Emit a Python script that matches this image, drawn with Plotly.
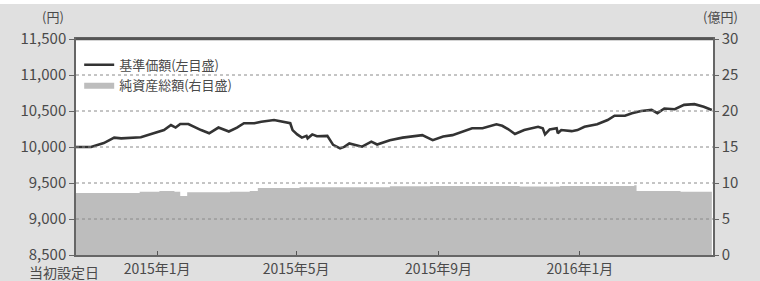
import plotly.graph_objects as go

# 基準価額 (円)
nav_dates = ["2014-10-23", "2014-11-05", "2014-11-16", "2014-11-25", "2014-12-01", "2014-12-18",
             "2014-12-29", "2015-01-07", "2015-01-13", "2015-01-17", "2015-01-21", "2015-01-28",
             "2015-02-08", "2015-02-15", "2015-02-23", "2015-03-04", "2015-03-11", "2015-03-17",
             "2015-03-26", "2015-04-01", "2015-04-12", "2015-04-22", "2015-04-26", "2015-04-28",
             "2015-05-02", "2015-05-06", "2015-05-10", "2015-05-11", "2015-05-15", "2015-05-19",
             "2015-05-28", "2015-06-02", "2015-06-08", "2015-06-12", "2015-06-16", "2015-06-27",
             "2015-07-05", "2015-07-10", "2015-07-21", "2015-08-01", "2015-08-07", "2015-08-18",
             "2015-08-27", "2015-09-05", "2015-09-13", "2015-09-22", "2015-09-30", "2015-10-09",
             "2015-10-21", "2015-10-26", "2015-10-31", "2015-11-06", "2015-11-14", "2015-11-26",
             "2015-11-30", "2015-12-02", "2015-12-06", "2015-12-12", "2015-12-13", "2015-12-16",
             "2015-12-25", "2015-12-30", "2016-01-05", "2016-01-16", "2016-01-25", "2016-01-31",
             "2016-02-09", "2016-02-15", "2016-02-23", "2016-03-03", "2016-03-08", "2016-03-14",
             "2016-03-23", "2016-03-31", "2016-04-09", "2016-04-17", "2016-04-24"]
nav_values = [10000, 10000, 10055, 10130, 10120, 10135,
              10190, 10235, 10305, 10270, 10320, 10320,
              10235, 10190, 10270, 10215, 10270, 10330,
              10330, 10350, 10375, 10350, 10330, 10235,
              10175, 10130, 10155, 10120, 10175, 10150,
              10155, 10030, 9980, 10005, 10050, 10005,
              10075, 10035, 10095, 10130, 10145, 10165,
              10095, 10145, 10165, 10215, 10260, 10260,
              10315, 10295, 10250, 10180, 10235, 10280,
              10260, 10175, 10245, 10260, 10190, 10235,
              10220, 10235, 10280, 10315, 10375, 10435,
              10435, 10470, 10500, 10515, 10470, 10535,
              10525, 10585, 10595, 10560, 10515]

# 純資産総額 (億円)
aum_dates = ["2014-10-23", "2014-12-17", "2015-01-03", "2015-01-16", "2015-01-21", "2015-01-27",
             "2015-03-05", "2015-03-22", "2015-03-29", "2015-05-04", "2015-07-21", "2015-08-25",
             "2015-11-10", "2015-12-15", "2016-02-17", "2016-02-19", "2016-03-28", "2016-04-24"]
aum_values = [8.6, 8.8, 8.9, 8.8, 8.2, 8.7,
              8.8, 8.9, 9.3, 9.4, 9.55, 9.6,
              9.5, 9.6, 9.7, 8.9, 8.8, 8.75]

x_tick_dates = ["2015-01-01", "2015-05-01", "2015-09-01", "2016-01-01"]
x_tick_text = ["2015年1月", "2015年5月", "2015年9月", "2016年1月"]
y_left_ticks = [8500, 9000, 9500, 10000, 10500, 11000, 11500]
y_right_ticks = [0, 5, 10, 15, 20, 25, 30]
x_range = ["2014-10-23", "2016-04-25"]

FONT = "Noto Sans CJK JP"
TXT = "#4a4a4a"

fig = go.Figure()
fig.add_trace(go.Scatter(
    x=nav_dates, y=nav_values, name="基準価額(左目盛)", yaxis="y",
    mode="lines", line=dict(color="#333333", width=2.6),
))
fig.add_trace(go.Scatter(
    x=aum_dates, y=aum_values, name="純資産総額(右目盛)", yaxis="y2",
    mode="lines", line=dict(color="rgba(0,0,0,0)", width=0, shape="hv"),
    fill="tozeroy", fillcolor="#bdbdbd",
))

shapes = [dict(type="line", xref="paper", x0=0, x1=1, yref="y", y0=v, y1=v,
               line=dict(color="#8a8a8a", width=1, dash="dot"), layer="above")
          for v in y_left_ticks[1:-1]]
shapes.append(dict(type="rect", xref="paper", yref="paper", x0=-0.2, x1=1.2,
                   y0=1.162, y1=1.3, fillcolor="white", line=dict(width=0), layer="below"))
shapes.append(dict(type="line", xref="paper", yref="paper", x0=0, x1=1, y0=1, y1=1,
                   line=dict(color="#555", width=2.5), layer="above"))

fig.update_layout(
    width=760, height=281,
    margin=dict(l=76, r=47, t=39, b=26, autoexpand=False),
    paper_bgcolor="#e0e0e0", plot_bgcolor="white",
    font=dict(family=FONT, color=TXT, size=14),
    showlegend=True,
    legend=dict(x=0.005, y=0.95, xanchor="left", yanchor="top",
                bgcolor="rgba(0,0,0,0)", font=dict(size=13, color=TXT),
                tracegroupgap=0, itemwidth=30),
    xaxis=dict(type="date", range=x_range, tickvals=x_tick_dates, ticktext=x_tick_text,
               ticks="inside", ticklen=4, tickcolor="#555", showgrid=False,
               showline=True, linecolor="#666", linewidth=1.5, mirror=True,
               tickfont=dict(size=14, color=TXT), automargin=False),
    yaxis=dict(range=[8500, 11500], tickvals=y_left_ticks, tickformat=",",
               ticks="outside", ticklen=5, tickcolor="#666", showgrid=False,
               showline=True, linecolor="#666", linewidth=1.5,
               tickfont=dict(size=15, color=TXT), zeroline=False, automargin=False),
    yaxis2=dict(range=[0, 30], tickvals=y_right_ticks, overlaying="y", side="right",
                ticks="outside", ticklen=4, tickcolor="#666", showgrid=False,
                showline=True, linecolor="#666", linewidth=1.5,
                tickfont=dict(size=15, color=TXT), zeroline=False, automargin=False),
    shapes=shapes,
    annotations=[
        dict(text="(円)", xref="paper", yref="paper", x=-0.016, y=1.066, yshift=-3,
             xanchor="right", yanchor="bottom", showarrow=False, font=dict(size=13, color=TXT)),
        dict(text="(億円)", xref="paper", yref="paper", x=1.012, y=1.066, yshift=-3,
             xanchor="center", yanchor="bottom", showarrow=False, font=dict(size=13, color=TXT)),
        dict(text="当初設定日", xref="paper", yref="paper", x=-0.019, y=0,
             xanchor="center", yanchor="top", yshift=-5, showarrow=False,
             font=dict(size=14, color=TXT)),
    ],
)

fig.write_html("out.html", config={"displayModeBar": False},
               post_script="document.body.style.margin='0';")
